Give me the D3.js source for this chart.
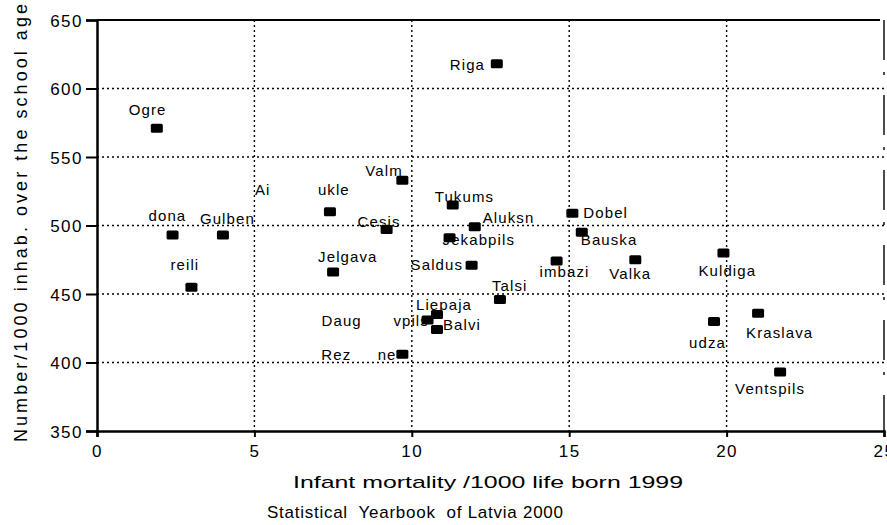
<!DOCTYPE html>
<html>
<head>
<meta charset="utf-8">
<script src="https://cdn.jsdelivr.net/npm/d3@7"></script>
<style>
	body { margin: 0; background: #fff; }
	text { font-family: "Liberation Sans", Arial, sans-serif; fill: #000; }
	.lbl { font-size: 15px; letter-spacing: 1.1px; white-space: pre; }
	.tick text { font-size: 17px; letter-spacing: 1.5px; }
	.grid line { stroke: #000; stroke-width: 1.4; stroke-dasharray: 2,3; }
</style>
</head>
<body>
<div id="container"></div>
<script>
// districts / towns (labels as they appear in the scan)
var names = ["Riga", "Ogre", "Valm", "Ai         ukle", "Tukums", "Cesis", "Aluksn", "Jekabpils",
	"Dobel", "Bauska", "Valka", "Kuldiga", "udza", "Kraslava", "Ventspils", "imbazi",
	"Saldus", "Jelgava", "Talsi", "Liepaja", "Daug      vpils", "Balvi", "Rez     ne",
	"dona", "Gulben", "reili"];

// infant mortality /1000 life born 1999
var mortality = [12.7, 1.9, 9.7, 7.4, 11.3, 9.2, 12.0, 11.2,
	15.1, 15.4, 17.1, 19.9, 19.6, 21.0, 21.7, 14.6,
	11.9, 7.5, 12.8, 10.8, 10.5, 10.8, 9.7,
	2.4, 4.0, 3.0];

// number /1000 inhab. over the school age
var schoolAge = [618, 571, 533, 510, 515, 497, 499, 491,
	509, 495, 475, 480, 430, 436, 393, 474,
	471, 466, 446, 435, 431, 424, 406,
	493, 493, 455];

var xTicks = [0, 5, 10, 15, 20, 25];
var yTicks = [350, 400, 450, 500, 550, 600, 650];

// label placement relative to the marker: [dx, dy]
var labelOffsets = [[-47, 6], [-28, -13], [-37, -4], [-75, -17], [-18, -3], [-29, -3], [8, -4], [-7, 7],
	[11, 5], [-1, 13], [-26, 19], [-25, 23], [-25, 27], [-12, 25], [-45, 22], [-17, 16],
	[-61, 5], [-15, -10], [-8, -8], [-21, -5], [-106, 6], [6, 0], [-81, 6],
	[-24, -14], [-23, -11], [-21, -17]];

function scatter_latvia(){

	var margin = {top: 20, right: 3, bottom: 94, left: 97},
		width = 887 - (margin.left + margin.right),
		height = 525 - (margin.top + margin.bottom);

	var svg = d3.select("#container")
		.append("svg")
		.attr("width", 887)
		.attr("height", 525);

	var plot = svg.append("g")
		.attr("transform", "translate(" + margin.left + "," + margin.top + ")");

	var x = d3.scaleLinear().domain([0, 25]).range([0, width]);
	var y = d3.scaleLinear().domain([350, 650]).range([height, 0]);

	// dotted grid
	plot.append("g")
		.attr("class", "grid")
		.selectAll("line")
		.data(yTicks.slice(1, -1))
		.enter().append("line")
		.attr("x1", 0).attr("x2", width)
		.attr("y1", function(d) { return y(d); })
		.attr("y2", function(d) { return y(d); });

	plot.append("g")
		.attr("class", "grid")
		.selectAll("line")
		.data(xTicks.slice(1))
		.enter().append("line")
		.attr("y1", 0).attr("y2", height)
		.attr("x1", function(d) { return x(d); })
		.attr("x2", function(d) { return x(d); })
		.style("stroke-dasharray", function(d) { return d == 25 ? "40,12,3,20" : null; });

	// top border
	plot.append("line")
		.attr("x1", 0).attr("x2", width - 4)
		.attr("y1", 0).attr("y2", 0)
		.attr("stroke", "#000")
		.attr("stroke-width", 2.2);

	// axes
	var xAxis = plot.append("g")
		.attr("transform", "translate(0," + height + ")")
		.call(d3.axisBottom(x).tickValues(xTicks).tickSize(6).tickPadding(8));

	var yAxis = plot.append("g")
		.call(d3.axisLeft(y).tickValues(yTicks).tickSize(11).tickPadding(3));

	[xAxis, yAxis].forEach(function(a) {
		a.select(".domain").attr("stroke-width", 2.5);
		a.selectAll(".tick line").attr("stroke-width", 2);
		a.selectAll(".tick text").attr("fill", "#000");
	});
	yAxis.selectAll(".tick text").attr("dy", "0.36em");

	// markers
	var idx = d3.range(names.length);

	plot.selectAll("rect.pt")
		.data(idx)
		.enter().append("rect")
		.attr("class", "pt")
		.attr("x", function(i) { return x(mortality[i]) - 6; })
		.attr("y", function(i) { return y(schoolAge[i]) - 4.5; })
		.attr("width", 12)
		.attr("height", 9)
		.attr("rx", 1.5)
		.attr("fill", "#000");

	plot.selectAll("text.lbl")
		.data(idx)
		.enter().append("text")
		.attr("class", "lbl")
		.attr("x", function(i) { return x(mortality[i]) + labelOffsets[i][0]; })
		.attr("y", function(i) { return y(schoolAge[i]) + labelOffsets[i][1]; })
		.text(function(i) { return names[i]; });

	// titles
	svg.append("text")
		.attr("x", 488).attr("y", 488)
		.attr("text-anchor", "middle")
		.style("font-size", "17px")
		.attr("textLength", 390)
		.attr("lengthAdjust", "spacingAndGlyphs")
		.text("Infant mortality /1000 life born 1999");

	svg.append("text")
		.attr("x", 415).attr("y", 518)
		.attr("text-anchor", "middle")
		.style("font-size", "17px")
		.attr("textLength", 296)
		.attr("lengthAdjust", "spacing")
		.text("Statistical  Yearbook  of Latvia 2000")
		.style("white-space", "pre");

	svg.append("text")
		.attr("transform", "translate(27,223) rotate(-90)")
		.attr("text-anchor", "middle")
		.style("font-size", "18px")
		.attr("textLength", 438)
		.attr("lengthAdjust", "spacing")
		.text("Number/1000 inhab. over the school age");
}

scatter_latvia();
</script>
</body>
</html>
